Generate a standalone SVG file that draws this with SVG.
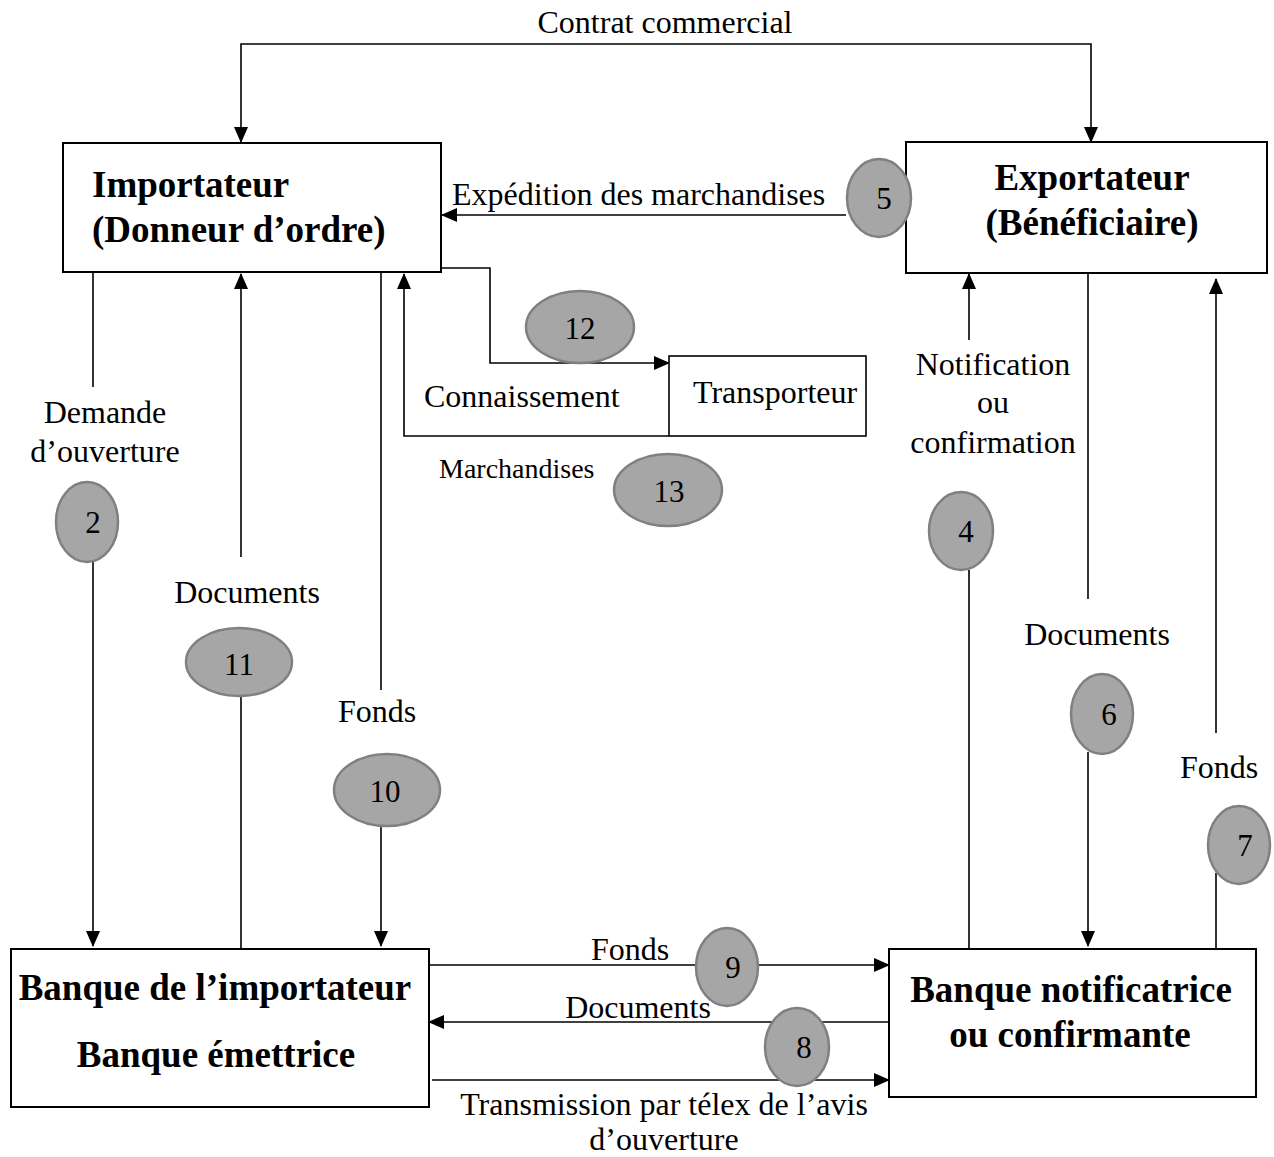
<svg xmlns="http://www.w3.org/2000/svg" width="1274" height="1157" viewBox="0 0 1274 1157">
  <style>
    .box { fill: #ffffff; stroke: #000000; stroke-width: 2; }
    .title { font-family: "Liberation Serif", "Times New Roman", serif; font-weight: bold; font-size: 37px; fill: #000000; }
    .lbl { font-family: "Liberation Serif", "Times New Roman", serif; font-size: 32px; fill: #000000; }
    .small { font-family: "Liberation Serif", "Times New Roman", serif; font-size: 28px; fill: #000000; }
    .num { font-family: "Liberation Serif", "Times New Roman", serif; font-size: 31px; fill: #000000; text-anchor: middle; }
    .link { fill: none; stroke: #000000; stroke-width: 1.6; }
    .arrow { marker-end: url(#head); }
    .step { fill: #a6a6a6; stroke: #808080; stroke-width: 2.5; }
  </style>
  <defs>
    <marker id="head" markerUnits="userSpaceOnUse" markerWidth="16" markerHeight="14" viewBox="0 0 16 14" refX="15" refY="7" orient="auto-start-reverse">
      <path d="M0,0 L16,7 L0,14 z" fill="#000000"/>
    </marker>
  </defs>

  <rect width="1274" height="1157" fill="#ffffff"/>

  <!-- flows between the parties -->
  <g id="connectors">
    <path class="link" d="M241,142 V44 H1091 V142" marker-start="url(#head)" marker-end="url(#head)"/>
    <path class="link arrow" d="M846,215 H442"/>
    <path class="link" d="M93,272 V387"/>
    <path class="link arrow" d="M93,562 V946"/>
    <path class="link arrow" d="M241,557 V274"/>
    <path class="link" d="M241,697 V949"/>
    <path class="link" d="M381,272 V690"/>
    <path class="link arrow" d="M381,827 V946"/>
    <path class="link arrow" d="M441,268 H490 V363 H669"/>
    <path class="link arrow" d="M669,436 H404 V274"/>
    <path class="link arrow" d="M969,340 V274"/>
    <path class="link" d="M969,570 V949"/>
    <path class="link" d="M1088,273 V599"/>
    <path class="link arrow" d="M1088,752 V946"/>
    <path class="link arrow" d="M1216,733 V279"/>
    <path class="link" d="M1216,873 V949"/>
    <path class="link arrow" d="M428,965 H889"/>
    <path class="link arrow" d="M889,1022 H429"/>
    <path class="link arrow" d="M432,1080 H889"/>
  </g>

  <!-- parties -->
  <g id="importateur">
    <rect class="box" x="63" y="143" width="378" height="129"/>
    <text class="title" x="92" y="197">Importateur</text>
    <text class="title" x="92" y="242">(Donneur d’ordre)</text>
  </g>
  <g id="exportateur">
    <rect class="box" x="906" y="142" width="361" height="131"/>
    <text class="title" x="1092" y="190" text-anchor="middle">Exportateur</text>
    <text class="title" x="1092" y="235" text-anchor="middle">(Bénéficiaire)</text>
  </g>
  <g id="transporteur">
    <rect x="669" y="356" width="197" height="80" fill="#ffffff" stroke="#000000" stroke-width="1.6"/>
    <text class="lbl" x="693" y="403">Transporteur</text>
  </g>
  <g id="banque-emettrice">
    <rect class="box" x="11" y="949" width="418" height="158"/>
    <text class="title" x="215" y="1000" text-anchor="middle">Banque de l’importateur</text>
    <text class="title" x="216" y="1067" text-anchor="middle">Banque émettrice</text>
  </g>
  <g id="banque-notificatrice">
    <rect class="box" x="889" y="949" width="367" height="148"/>
    <text class="title" x="1071" y="1002" text-anchor="middle">Banque notificatrice</text>
    <text class="title" x="1070" y="1047" text-anchor="middle">ou confirmante</text>
  </g>

  <!-- flow labels -->
  <g id="labels">
    <text class="lbl" x="665" y="33" text-anchor="middle">Contrat commercial</text>
    <text class="lbl" x="452" y="205">Expédition des marchandises</text>
    <text class="lbl" x="105" y="423" text-anchor="middle">Demande</text>
    <text class="lbl" x="105" y="462" text-anchor="middle">d’ouverture</text>
    <text class="lbl" x="247" y="603" text-anchor="middle">Documents</text>
    <text class="lbl" x="377" y="722" text-anchor="middle">Fonds</text>
    <text class="lbl" x="424" y="407">Connaissement</text>
    <text class="small" x="439" y="478">Marchandises</text>
    <text class="lbl" x="993" y="375" text-anchor="middle">Notification</text>
    <text class="lbl" x="993" y="413" text-anchor="middle">ou</text>
    <text class="lbl" x="993" y="453" text-anchor="middle">confirmation</text>
    <text class="lbl" x="1097" y="645" text-anchor="middle">Documents</text>
    <text class="lbl" x="1219" y="778" text-anchor="middle">Fonds</text>
    <text class="lbl" x="630" y="960" text-anchor="middle">Fonds</text>
    <text class="lbl" x="638" y="1018" text-anchor="middle">Documents</text>
    <text class="lbl" x="664" y="1115" text-anchor="middle">Transmission par télex de l’avis</text>
    <text class="lbl" x="664" y="1150" text-anchor="middle">d’ouverture</text>
  </g>

  <!-- numbered steps -->
  <g id="steps">
    <g id="step-2"><ellipse class="step" cx="87" cy="522" rx="31" ry="40"/><text class="num" x="93" y="533">2</text></g>
    <g id="step-4"><ellipse class="step" cx="961" cy="531" rx="32" ry="39"/><text class="num" x="966" y="542">4</text></g>
    <g id="step-5"><ellipse class="step" cx="879" cy="198" rx="32" ry="39"/><text class="num" x="884" y="209">5</text></g>
    <g id="step-6"><ellipse class="step" cx="1102" cy="714" rx="31" ry="40"/><text class="num" x="1109" y="725">6</text></g>
    <g id="step-7"><ellipse class="step" cx="1239" cy="845" rx="31" ry="39"/><text class="num" x="1245" y="856">7</text></g>
    <g id="step-8"><ellipse class="step" cx="797" cy="1047" rx="32" ry="39"/><text class="num" x="804" y="1058">8</text></g>
    <g id="step-9"><ellipse class="step" cx="727" cy="967" rx="31" ry="39"/><text class="num" x="733" y="978">9</text></g>
    <g id="step-10"><ellipse class="step" cx="387" cy="790" rx="53" ry="36"/><text class="num" x="385" y="802">10</text></g>
    <g id="step-11"><ellipse class="step" cx="239" cy="662" rx="53" ry="34"/><text class="num" x="239" y="675">11</text></g>
    <g id="step-12"><ellipse class="step" cx="580" cy="327" rx="54" ry="36"/><text class="num" x="580" y="339">12</text></g>
    <g id="step-13"><ellipse class="step" cx="668" cy="490" rx="54" ry="36"/><text class="num" x="669" y="502">13</text></g>
  </g>
</svg>
